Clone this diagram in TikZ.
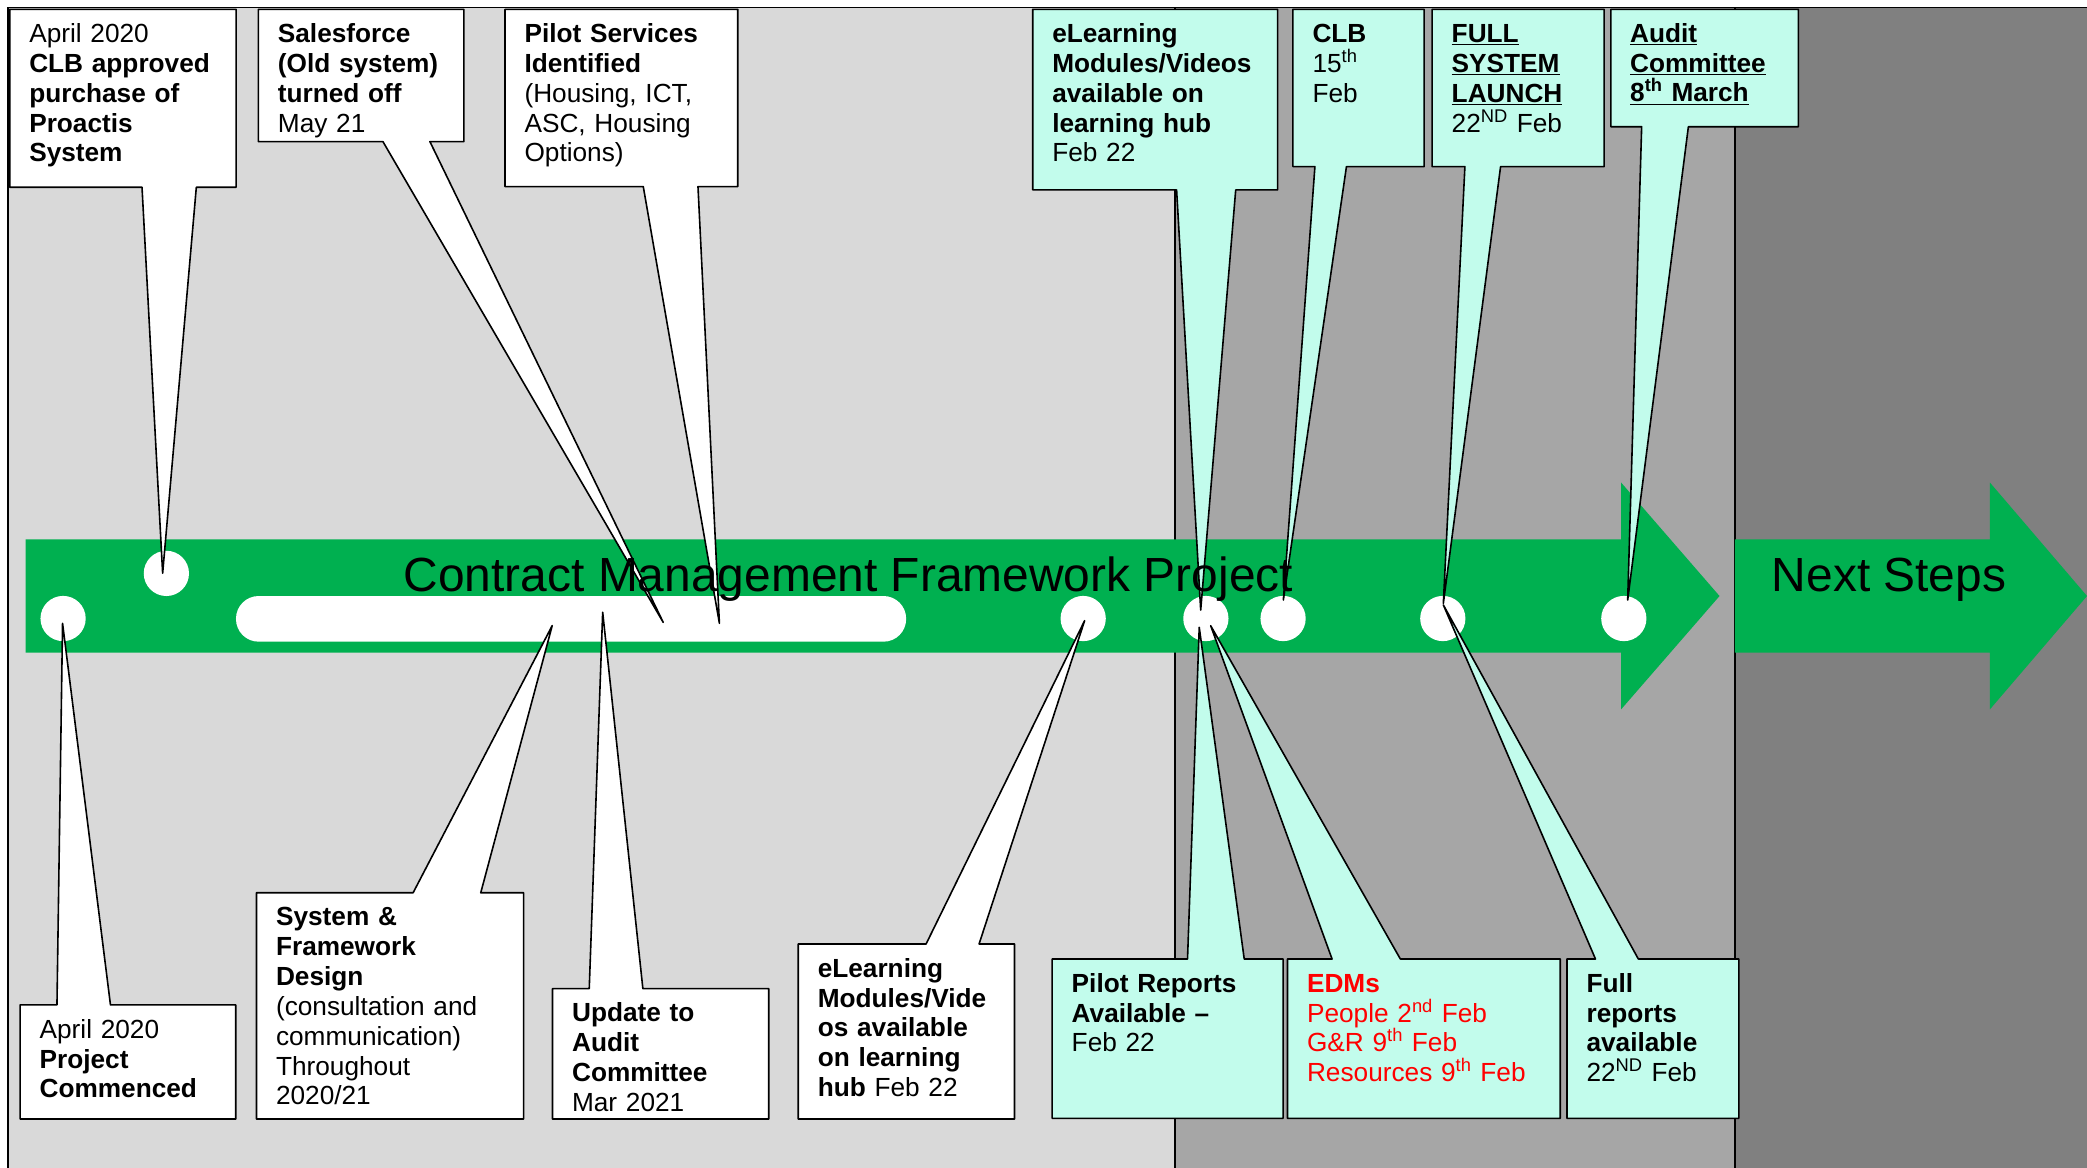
\documentclass[tikz,border=0pt]{standalone}
\usepackage{fontspec}
\setmainfont{Liberation Sans}
\definecolor{litegray}{HTML}{D9D9D9}
\definecolor{midgray}{HTML}{A6A6A6}
\definecolor{deepgray}{HTML}{808080}
\definecolor{projgreen}{HTML}{00B050}
\definecolor{calloutcyan}{HTML}{C2FCEC}
\begin{document}
\begin{tikzpicture}[x=1pt,y=-1pt,
	callw/.style={fill=white,draw=black,line width=1.2pt,line join=round},
	callc/.style={callw,fill=calloutcyan},
	txt/.style={anchor=base west,inner sep=0pt,text width=190pt,align=left,font=\fontsize{19.7}{22.4}\selectfont},
	dot/.style={circle,fill=white,minimum size=34pt,inner sep=0pt}]
		\useasboundingbox (0,0) rectangle (1568,877.5);
		% background phases
		\filldraw[fill=litegray,line width=0.8pt] (6,5.5) rectangle (882.8,880);
		\filldraw[fill=midgray,line width=0.8pt] (882.8,5.5) rectangle (1303.5,880);
		\filldraw[fill=deepgray,line width=0.8pt] (1303.5,5.5) rectangle (1572,880);
		% arrows
		\fill[projgreen] (19.2,405.2) -- (1218,405.2) -- (1218,362.6) -- (1291.9,447.8) -- (1218,532.9) -- (1218,490.4) -- (19.2,490.4) -- cycle;
		\fill[projgreen] (1303.5,405.2) -- (1495.1,405.2) -- (1495.1,362.6) -- (1568,447.8) -- (1495.1,532.9) -- (1495.1,490.4) -- (1303.5,490.4) -- cycle;
		\fill[white,rounded corners=17pt] (177.3,447.8) rectangle (680.8,482.1);
		\node[dot] (mStart) at (47.4,464.7) {};
		\node[dot] (mApproval) at (125,430.8) {};
		\node[dot] (mElearn) at (813.8,464.7) {};
		\node[dot] (mPilot) at (906,464.7) {};
		\node[dot] (mClb) at (964,464.7) {};
		\node[dot] (mLaunch) at (1084,464.7) {};
		\node[dot] (mAudit) at (1220,464.7) {};
		% pointer tips
		\coordinate (tApproval) at (122.2,430.7);
		\coordinate (tSales) at (498.3,467.6);
		\coordinate (tPilots) at (540.5,468.3);
		\coordinate (tElearnA) at (902.1,458.3);
		\coordinate (tClb) at (964.2,450.8);
		\coordinate (tLaunch) at (1084.4,453.3);
		\coordinate (tAudit) at (1222.9,450.8);
		\coordinate (tStart) at (47,468.3);
		\coordinate (tDesign) at (414.9,470);
		\coordinate (tUpdate) at (452.8,460);
		\coordinate (tElearnB) at (814.9,466.3);
		\coordinate (tPilotRep) at (901,471.3);
		\coordinate (tEdms) at (909.6,470.1);
		\coordinate (tFullRep) at (1084.4,454.5);
		% callouts above
		\draw[callw] (7.3,7) -- (177.4,7) -- (177.4,140.7) -- (147.5,140.7) -- (tApproval) -- (106.7,140.7) -- (7.3,140.7) -- cycle;
		\draw[callw] (194.1,7) -- (348.5,7) -- (348.5,106.4) -- (323,106.4) -- (tSales) -- (287.7,106.4) -- (194.1,106.4) -- cycle;
		\draw[callw] (379.4,7) -- (554.3,7) -- (554.3,140.2) -- (524.4,140.2) -- (tPilots) -- (483.3,140.2) -- (379.4,140.2) -- cycle;
		\draw[callc] (775.9,7) -- (959.9,7) -- (959.9,142.7) -- (928.4,142.7) -- (tElearnA) -- (884,142.7) -- (775.9,142.7) -- cycle;
		\draw[callc] (971.4,7) -- (1070,7) -- (1070,125.2) -- (1011.6,125.2) -- (tClb) -- (987.9,125.2) -- (971.4,125.2) -- cycle;
		\draw[callc] (1076,7) -- (1205.2,7) -- (1205.2,125.2) -- (1127.4,125.2) -- (tLaunch) -- (1100.6,125.2) -- (1076,125.2) -- cycle;
		\draw[callc] (1210.3,7) -- (1351.1,7) -- (1351.1,95.2) -- (1268.5,95.2) -- (tAudit) -- (1233.4,95.2) -- (1210.3,95.2) -- cycle;
		% callouts below
		\draw[callw] (15.1,755) -- (42.8,755) -- (tStart) -- (83,755) -- (177.1,755) -- (177.1,840.7) -- (15.1,840.7) -- cycle;
		\draw[callw] (192.7,670.7) -- (310.4,670.7) -- (tDesign) -- (361.2,670.7) -- (393.4,670.7) -- (393.4,840.7) -- (192.7,840.7) -- cycle;
		\draw[callw] (415.1,742.8) -- (442.7,742.8) -- (tUpdate) -- (483,742.8) -- (577.6,742.8) -- (577.6,840.7) -- (415.1,840.7) -- cycle;
		\draw[callw] (599.7,709.2) -- (695.8,709.2) -- (tElearnB) -- (735.6,709.2) -- (762.2,709.2) -- (762.2,840.7) -- (599.7,840.7) -- cycle;
		\draw[callc] (790.5,720.5) -- (892.2,720.5) -- (tPilotRep) -- (934.8,720.5) -- (964,720.5) -- (964,840.2) -- (790.5,840.2) -- cycle;
		\draw[callc] (967.3,720.5) -- (1000.8,720.5) -- (tEdms) -- (1052.1,720.5) -- (1172.2,720.5) -- (1172.2,840.2) -- (967.3,840.2) -- cycle;
		\draw[callc] (1177.3,720.5) -- (1198.7,720.5) -- (tFullRep) -- (1230.9,720.5) -- (1306.4,720.5) -- (1306.4,840.2) -- (1177.3,840.2) -- cycle;
		% texts above
		\node[txt] (approval) at (21.8,32) {April 2020\\\textbf{CLB approved}\\\textbf{purchase of}\\\textbf{Proactis}\\\textbf{System}};
		\node[txt] (salesforce) at (208.6,32) {\textbf{Salesforce}\\\textbf{(Old system)}\\\textbf{turned off}\\May 21};
		\node[txt] (pilots) at (393.9,32) {\textbf{Pilot Services}\\\textbf{Identified}\\(Housing, ICT,\\ASC, Housing\\Options)};
		\node[txt] (elearnA) at (790.4,32) {\textbf{eLearning}\\\textbf{Modules/Videos}\\\textbf{available on}\\\textbf{learning hub}\\Feb 22};
		\node[txt] (clb) at (985.9,32) {\textbf{CLB}\\15\textsuperscript{th}\\Feb};
		\node[txt] (launch) at (1090.5,32) {\textbf{\underline{FULL}}\\\textbf{\underline{SYSTEM}}\\\textbf{\underline{LAUNCH}}\\22\textsuperscript{ND} Feb};
		\node[txt] (audit) at (1224.6,31.8) {\textbf{\underline{Audit}}\\\textbf{\underline{Committee}}\\\textbf{\underline{8\textsuperscript{th} March}}};
		% texts below
		\node[txt] (commenced) at (29.6,780) {April 2020\\\textbf{Project}\\\textbf{Commenced}};
		\node[txt] (design) at (207.2,695.7) {\textbf{System \&}\\\textbf{Framework}\\\textbf{Design}\\(consultation and\\communication)\\Throughout\\2020/21};
		\node[txt] (update) at (429.6,767.8) {\textbf{Update to}\\\textbf{Audit}\\\textbf{Committee}\\Mar 2021};
		\node[txt] (elearnB) at (614.2,734.2) {\textbf{eLearning}\\\textbf{Modules/Vide}\\\textbf{os available}\\\textbf{on learning}\\\textbf{hub} Feb 22};
		\node[txt] (pilotrep) at (805,745.5) {\textbf{Pilot Reports}\\\textbf{Available –}\\Feb 22};
		\node[txt,text=red] (edms) at (981.8,745.5) {\textbf{EDMs}\\People 2\textsuperscript{nd} Feb\\G\&R 9\textsuperscript{th} Feb\\Resources 9\textsuperscript{th} Feb};
		\node[txt] (fullrep) at (1191.8,745.5) {\textbf{Full}\\\textbf{reports}\\\textbf{available}\\22\textsuperscript{ND} Feb};
		% arrow titles
		\node[anchor=base,inner sep=0pt,font=\fontsize{36}{40}\selectfont] (project) at (637.4,444.5) {Contract Management Framework Project};
		\node[anchor=base west,inner sep=0pt,font=\fontsize{36}{40}\selectfont] (next) at (1331,444.5) {Next Steps};
\end{tikzpicture}
\end{document}
